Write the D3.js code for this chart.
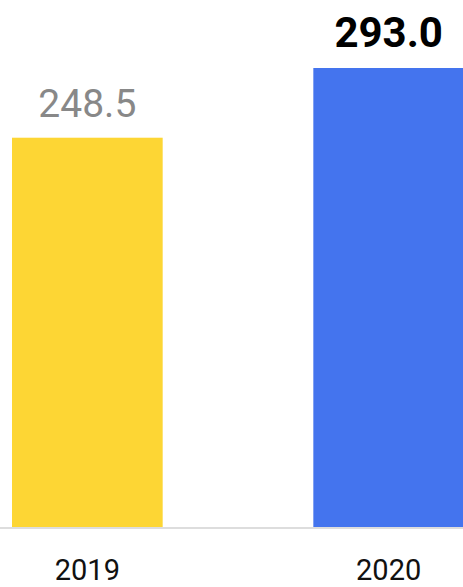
<!DOCTYPE html>
<html>
<head>
<meta charset="utf-8">
<script src="https://cdn.jsdelivr.net/npm/d3@7/dist/d3.min.js"></script>
<style>
  html, body { margin: 0; padding: 0; background: #fff; }
  svg { display: block; font-family: Roboto, "Noto Sans", sans-serif; }
</style>
</head>
<body>
<svg id="chart" width="463" height="587"></svg>
<script>
// Annual totals
const years = ["2019", "2020"];
const values = [248.5, 293.0];
const barColors = ["#FDD634", "#4474EE"];
const labelColors = ["#888888", "#000000"];
const labelWeights = ["400", "700"];
const labelSizes = [39, 42];

const svg = d3.select("#chart");
const baseY = 527;

const x = d3.scaleBand()
  .domain(years)
  .range([12, 464])
  .paddingInner(0.5)
  .paddingOuter(0);

const y = d3.scaleLinear()
  .domain([0, d3.max(values)])
  .range([baseY, 68]);

const data = years.map((yr, i) => ({ year: yr, value: values[i], i }));

// Bars
svg.selectAll("rect.bar")
  .data(data)
  .join("rect")
  .attr("class", "bar")
  .attr("x", d => x(d.year))
  .attr("y", d => y(d.value))
  .attr("width", x.bandwidth())
  .attr("height", d => baseY - y(d.value))
  .attr("fill", d => barColors[d.i]);

// Baseline
svg.append("line")
  .attr("x1", 0).attr("x2", 463)
  .attr("y1", baseY + 1).attr("y2", baseY + 1)
  .attr("stroke", "#dddddd")
  .attr("stroke-width", 2);

// Value labels
svg.selectAll("text.value")
  .data(data)
  .join("text")
  .attr("class", "value")
  .attr("x", d => x(d.year) + x.bandwidth() / 2)
  .attr("y", d => y(d.value) - 21)
  .attr("text-anchor", "middle")
  .attr("font-size", d => labelSizes[d.i])
  .attr("font-weight", d => labelWeights[d.i])
  .attr("fill", d => labelColors[d.i])
  .text(d => d.value.toFixed(1));

// Category axis
const xAxis = d3.axisBottom(x).tickSize(0).tickPadding(0);
const axisG = svg.append("g")
  .attr("transform", `translate(0, ${baseY})`)
  .call(xAxis);
axisG.select(".domain").remove();
axisG.selectAll("text")
  .attr("y", 52.5)
  .attr("dy", null)
  .attr("font-family", "Roboto, 'Noto Sans', sans-serif")
  .attr("font-size", 29)
  .attr("fill", "#111111");
</script>
</body>
</html>
